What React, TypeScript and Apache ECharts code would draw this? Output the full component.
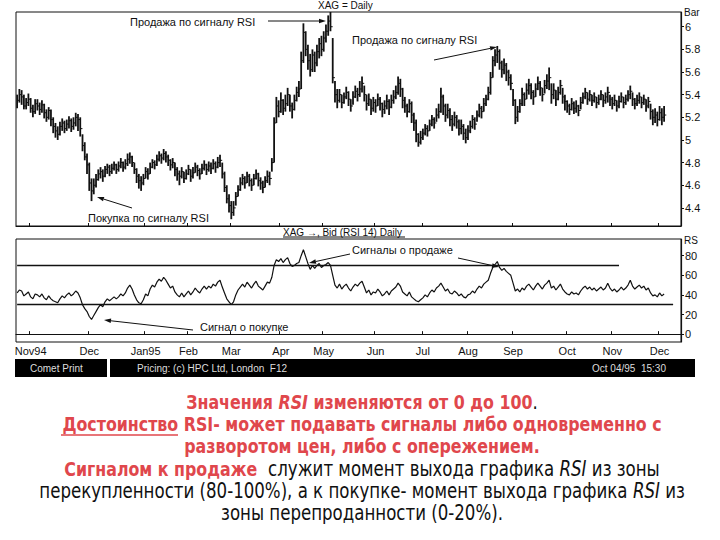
import React, { useEffect, useRef } from "react";
import * as echarts from "echarts";

// ---- Price bars (XAG daily): close, high, low ----
const closes = [
  5.35, 5.40, 5.38, 5.30, 5.33, 5.36, 5.28, 5.25, 5.32, 5.30,
  5.27, 5.31, 5.24, 5.20, 5.26, 5.18, 5.12, 5.08, 5.05, 5.12,
  5.15, 5.10, 5.14, 5.17, 5.12, 5.15, 5.20, 5.18, 5.10,
  4.95, 4.85, 4.78, 4.62, 4.55, 4.60, 4.65, 4.70, 4.72, 4.68, 4.74,
  4.76, 4.72, 4.75, 4.78, 4.74, 4.77, 4.80, 4.76, 4.79, 4.83, 4.85,
  4.80, 4.74, 4.68, 4.64, 4.62, 4.66, 4.72, 4.70, 4.76,
  4.80, 4.78, 4.83, 4.86, 4.84, 4.88, 4.85, 4.82, 4.78, 4.80, 4.74, 4.70, 4.68,
  4.72, 4.66, 4.70, 4.74, 4.68, 4.71, 4.76, 4.73, 4.70, 4.75, 4.78, 4.74, 4.77, 4.75, 4.79, 4.76, 4.80, 4.82,
  4.70, 4.58, 4.48, 4.42, 4.36, 4.40, 4.50, 4.56, 4.62,
  4.66, 4.62, 4.68, 4.64, 4.60, 4.66, 4.70, 4.64, 4.62, 4.58, 4.64, 4.68, 4.66,
  4.80, 5.15, 5.30, 5.25, 5.35, 5.28, 5.32, 5.40, 5.30, 5.27, 5.35, 5.42, 5.45,
  5.70, 5.95, 5.80, 5.70, 5.62, 5.75, 5.68, 5.78, 5.85, 5.80, 5.90, 5.96, 6.05, 6.00,
  5.55, 5.40, 5.35,
  5.40, 5.33, 5.38, 5.42, 5.36, 5.30, 5.38, 5.43, 5.40, 5.45,
  5.50,
  5.40, 5.32, 5.36, 5.28, 5.33, 5.30, 5.36, 5.32, 5.27, 5.30, 5.34, 5.29, 5.35, 5.38, 5.42,
  5.50, 5.45, 5.35,
  5.30, 5.25, 5.32, 5.22, 5.15, 5.05, 4.98, 5.02,
  5.06, 5.10, 5.08, 5.14, 5.18, 5.15, 5.22, 5.25,
  5.38,
  5.30, 5.22, 5.26, 5.18, 5.14, 5.20, 5.16, 5.10, 5.12, 5.06, 5.02, 5.08,
  5.12, 5.18, 5.14, 5.22, 5.28, 5.25, 5.32, 5.36, 5.42, 5.55,
  5.70, 5.75, 5.78, 5.68, 5.62, 5.66, 5.60, 5.55, 5.50,
  5.35, 5.20, 5.25,
  5.32, 5.40, 5.36, 5.44, 5.48, 5.42, 5.38, 5.45, 5.50, 5.46, 5.40, 5.48, 5.52,
  5.55,
  5.40, 5.44, 5.36, 5.42, 5.48, 5.38, 5.34,
  5.30, 5.27, 5.32, 5.28, 5.30, 5.26, 5.33,
  5.38, 5.42, 5.36, 5.40, 5.35, 5.38, 5.33, 5.36, 5.40, 5.35, 5.38,
  5.42,
  5.36, 5.32, 5.35, 5.30, 5.34, 5.38, 5.33, 5.36, 5.40,
  5.43,
  5.36, 5.32, 5.35, 5.38, 5.33, 5.36, 5.30, 5.34,
  5.25, 5.20, 5.22, 5.18, 5.24, 5.20, 5.22,
];

const highs = [
  5.40, 5.45, 5.44, 5.40, 5.37, 5.41, 5.37, 5.31, 5.36, 5.36,
  5.33, 5.35, 5.32, 5.27, 5.29, 5.27, 5.20, 5.15, 5.12, 5.16,
  5.19, 5.17, 5.18, 5.21, 5.19, 5.20, 5.24, 5.23, 5.20,
  5.05, 4.98, 4.88, 4.80, 4.66, 4.66, 4.70, 4.74, 4.76, 4.74, 4.77,
  4.79, 4.78, 4.79, 4.81, 4.79, 4.81, 4.84, 4.81, 4.83, 4.88, 4.89,
  4.86, 4.80, 4.75, 4.70, 4.68, 4.70, 4.76, 4.75, 4.80,
  4.83, 4.82, 4.87, 4.90, 4.88, 4.92, 4.90, 4.87, 4.83, 4.84, 4.80, 4.76, 4.73,
  4.76, 4.72, 4.74, 4.78, 4.74, 4.76, 4.80, 4.78, 4.75, 4.79, 4.82, 4.79, 4.81, 4.80, 4.83, 4.81, 4.85, 4.87,
  4.80, 4.72, 4.60, 4.52, 4.46, 4.46, 4.54, 4.60, 4.67,
  4.70, 4.68, 4.72, 4.70, 4.66, 4.70, 4.74, 4.71, 4.67, 4.64, 4.68, 4.73, 4.72,
  4.84, 5.20, 5.38, 5.35, 5.42, 5.36, 5.40, 5.46, 5.40, 5.33, 5.40, 5.47, 5.52,
  5.78, 6.03, 5.96, 5.84, 5.76, 5.80, 5.78, 5.84, 5.90, 5.92, 5.96, 6.02, 6.10, 6.13,
  5.90, 5.52, 5.45,
  5.45, 5.40, 5.42, 5.47, 5.43, 5.36, 5.43, 5.48, 5.46, 5.52,
  5.56,
  5.48, 5.40, 5.41, 5.36, 5.38, 5.36, 5.41, 5.38, 5.33, 5.35, 5.40, 5.36, 5.40, 5.44, 5.48,
  5.56, 5.54, 5.46,
  5.38, 5.32, 5.36, 5.34, 5.24, 5.18, 5.06, 5.08,
  5.10, 5.14, 5.13, 5.18, 5.22, 5.20, 5.28, 5.32,
  5.46,
  5.40, 5.32, 5.32, 5.28, 5.22, 5.25, 5.22, 5.18, 5.18, 5.14, 5.10, 5.13,
  5.17, 5.22, 5.20, 5.26, 5.32, 5.30, 5.37, 5.40, 5.47, 5.60,
  5.74, 5.80, 5.83, 5.80, 5.70, 5.72, 5.68, 5.62, 5.58,
  5.45, 5.36, 5.30,
  5.36, 5.46, 5.42, 5.50, 5.54, 5.50, 5.44, 5.50, 5.56, 5.52, 5.46, 5.53, 5.58,
  5.64,
  5.50, 5.50, 5.44, 5.47, 5.53, 5.46, 5.40,
  5.35, 5.32, 5.37, 5.34, 5.35, 5.31, 5.38,
  5.42, 5.46, 5.42, 5.44, 5.40, 5.42, 5.38, 5.40, 5.44, 5.40, 5.42,
  5.47,
  5.40, 5.38, 5.40, 5.35, 5.39, 5.42, 5.38, 5.40, 5.44,
  5.48,
  5.42, 5.37, 5.40, 5.42, 5.38, 5.40, 5.36, 5.38,
  5.32, 5.27, 5.28, 5.25, 5.30, 5.28, 5.30,
];

const lows = [
  5.28, 5.33, 5.31, 5.27, 5.27, 5.30, 5.24, 5.20, 5.23, 5.26,
  5.22, 5.24, 5.19, 5.16, 5.18, 5.12, 5.06, 5.02, 5.00, 5.04,
  5.08, 5.06, 5.08, 5.10, 5.07, 5.09, 5.12, 5.08, 5.03,
  4.90, 4.82, 4.70, 4.55, 4.46, 4.52, 4.58, 4.64, 4.66, 4.63, 4.67,
  4.70, 4.68, 4.70, 4.73, 4.70, 4.72, 4.75, 4.72, 4.74, 4.77, 4.79,
  4.76, 4.70, 4.62, 4.57, 4.55, 4.60, 4.66, 4.65, 4.70,
  4.75, 4.74, 4.77, 4.81, 4.79, 4.82, 4.80, 4.77, 4.73, 4.75, 4.68, 4.64, 4.60,
  4.66, 4.62, 4.65, 4.69, 4.63, 4.66, 4.71, 4.68, 4.65, 4.70, 4.73, 4.69, 4.72, 4.70, 4.74, 4.71, 4.75, 4.76,
  4.66, 4.54, 4.44, 4.36, 4.30, 4.33, 4.42, 4.50, 4.55,
  4.60, 4.57, 4.62, 4.59, 4.55, 4.60, 4.65, 4.59, 4.56, 4.53, 4.58, 4.62, 4.60,
  4.72, 4.80, 5.15, 5.20, 5.24, 5.22, 5.25, 5.30, 5.25, 5.19, 5.26, 5.34, 5.38,
  5.45, 5.68, 5.74, 5.62, 5.56, 5.60, 5.60, 5.65, 5.72, 5.74, 5.78, 5.86, 5.92, 5.96,
  5.50, 5.33, 5.28,
  5.33, 5.28, 5.32, 5.36, 5.30, 5.25, 5.31, 5.37, 5.34, 5.38,
  5.42,
  5.34, 5.26, 5.30, 5.22, 5.25, 5.24, 5.30, 5.26, 5.20, 5.23, 5.27, 5.22, 5.28, 5.32, 5.36,
  5.40, 5.38, 5.28,
  5.24, 5.20, 5.24, 5.15, 5.08, 4.98, 4.94, 4.96,
  5.00, 5.04, 5.03, 5.08, 5.12, 5.10, 5.16, 5.19,
  5.24,
  5.22, 5.16, 5.19, 5.12, 5.08, 5.12, 5.10, 5.04, 5.05, 5.00, 4.97, 5.00,
  5.06, 5.10, 5.09, 5.16, 5.20, 5.19, 5.25, 5.30, 5.35, 5.40,
  5.55, 5.65, 5.68, 5.62, 5.55, 5.58, 5.52, 5.48, 5.44,
  5.30, 5.14, 5.16,
  5.24, 5.30, 5.30, 5.36, 5.40, 5.36, 5.31, 5.38, 5.44, 5.39, 5.34, 5.41, 5.45,
  5.44,
  5.32, 5.36, 5.30, 5.35, 5.40, 5.32, 5.26,
  5.24, 5.22, 5.26, 5.23, 5.24, 5.21, 5.27,
  5.32, 5.36, 5.31, 5.34, 5.30, 5.33, 5.28, 5.31, 5.35, 5.29, 5.32,
  5.33,
  5.30, 5.27, 5.30, 5.25, 5.28, 5.33, 5.28, 5.31, 5.34,
  5.36,
  5.30, 5.27, 5.30, 5.32, 5.28, 5.31, 5.25, 5.28,
  5.18, 5.13, 5.15, 5.12, 5.17, 5.13, 5.16,
];

// ---- RSI (14) ----
const rsi = [
  42, 45, 44, 39, 41, 43, 38, 36, 41, 40,
  38, 41, 37, 35, 39, 36, 34, 33, 32, 36,
  39, 37, 40, 42, 39, 41, 44, 42, 37,
  30, 26, 23, 18, 15, 19, 23, 27, 30, 28, 33,
  36, 34, 36, 38, 36, 38, 41, 39, 42, 47, 50,
  46, 40, 35, 32, 31, 35, 41, 39, 46,
  50, 48, 53, 56, 54, 58, 55, 51, 47, 49, 43, 40, 38,
  42, 38, 41, 44, 40, 43, 47, 44, 42, 46, 49, 46, 49, 47, 51, 49, 53, 55,
  48, 42, 36, 33, 30, 33, 40, 45, 48,
  51, 48, 53, 50, 47, 51, 54, 49, 47, 45, 49, 53, 52,
  58, 70, 76, 74, 77, 73, 76, 78, 72, 69, 70, 72, 73,
  80, 86, 79, 72, 66, 70, 67, 70, 72, 68, 70, 71, 73, 70,
  60, 50, 47,
  51, 46, 49, 51, 47, 44, 48, 51, 49, 52,
  54,
  48, 42, 45, 40, 43, 42, 46, 43, 39, 41, 44, 40, 44, 46, 48,
  52, 49, 43,
  41, 39, 43, 38, 36, 34, 33, 35,
  37, 40, 38, 42, 45, 43, 47, 49,
  52,
  48, 44, 46, 42, 41, 44, 42, 39, 41, 38, 37, 40,
  41, 44, 42, 46, 49, 47, 51, 53, 55, 62,
  68, 71, 74, 68, 65, 67, 64, 62, 60,
  52, 44, 46,
  43, 47, 45, 49, 51, 48, 45, 49, 52, 49, 46, 50, 52,
  55,
  47, 49, 45, 48, 51, 46, 43,
  41, 40, 43, 41, 42, 40, 44,
  47, 49, 46, 48, 45, 47, 44, 46, 48, 45, 47,
  52,
  47, 44, 46, 43, 45, 48, 45, 47, 50,
  55,
  49, 46, 48, 50, 47, 49, 45, 47,
  42, 39, 40, 38, 42, 39, 41,
];

const monthStarts = [6, 32, 57, 76, 95, 117, 136, 159, 180, 200, 220, 244, 264, 285];
const monthNames = ["Nov94", "Dec", "Jan95", "Feb", "Mar", "Apr", "May", "Jun", "Jul", "Aug", "Sep", "Oct", "Nov", "Dec"];
const rsiOverbought = 70;
const rsiOversold = 30;
const overboughtEnd = 267;
const oversoldEnd = 291;
const totalDays = 295;

const RED = "#e0474c";
const ARIAL = '"Liberation Sans", Arial, sans-serif';
const NARROW = '"Liberation Sans Narrow", "Arial Narrow", "DejaVu Sans Condensed", sans-serif';

function txt(text: string, x: number, y: number, size = 11, extra: any = {}) {
  return {
    type: "text",
    x,
    y,
    silent: true,
    style: {
      text,
      fill: "#111",
      fontSize: size,
      fontFamily: ARIAL,
      align: "left",
      verticalAlign: "middle",
      textAlign: "left",
      textVerticalAlign: "middle",
      ...extra,
    },
  };
}

function arrow(x1: number, y1: number, x2: number, y2: number) {
  const ang = Math.atan2(y2 - y1, x2 - x1);
  const L = 7;
  const W = 2.2;
  const bx = x2 - L * Math.cos(ang);
  const by = y2 - L * Math.sin(ang);
  const px = -Math.sin(ang) * W;
  const py = Math.cos(ang) * W;
  return [
    { type: "line", silent: true, shape: { x1, y1, x2: bx, y2: by }, style: { stroke: "#111", lineWidth: 1 } },
    {
      type: "polygon",
      silent: true,
      shape: { points: [[x2, y2], [bx + px, by + py], [bx - px, by - py]] },
      style: { fill: "#111" },
    },
  ];
}

function richLine(text: string, y: number) {
  const bold = { fontSize: 20, fontFamily: NARROW, fontWeight: "bold" };
  const reg = { fontSize: 21, fontFamily: NARROW };
  return {
    type: "text",
    x: 362,
    y,
    scaleX: 0.88,
    silent: true,
    style: {
      text,
      align: "center",
      verticalAlign: "middle",
      textAlign: "center",
      textVerticalAlign: "middle",
      fontSize: 20,
      fontFamily: NARROW,
      rich: {
        r: { ...bold, fill: RED, color: RED },
        ri: { ...bold, fill: RED, color: RED, fontStyle: "italic" },
        k: { ...reg, fill: "#111", color: "#111" },
        ki: { ...reg, fill: "#111", color: "#111", fontStyle: "italic" },
      },
    },
  };
}

export default function App() {
  const ref = useRef<HTMLDivElement>(null);

  useEffect(() => {
    if (!ref.current) return;
    const chart = echarts.init(ref.current, null, { renderer: "svg" });
    const cats = Array.from({ length: totalDays }, (_, i) => String(i));
    const monthMap: Record<number, string> = {};
    monthStarts.forEach((m, k) => (monthMap[m] = monthNames[k]));
    const isMonth = (idx: number) => monthMap[idx] !== undefined;

    const barData = closes.map((c, i) => [i, lows[i], highs[i], c]);
    const rsiData = rsi.map((v, i) => [i, v]);

    const option: any = {
      animation: false,
      backgroundColor: "#fff",
      grid: [
        { left: 16, right: 39, top: 12, height: 214, show: true, borderColor: "#111", borderWidth: 1, backgroundColor: "transparent" },
        { left: 16, right: 39, top: 239, height: 103, show: true, borderColor: "#111", borderWidth: 1, backgroundColor: "transparent" },
      ],
      xAxis: [
        {
          type: "category",
          gridIndex: 0,
          data: cats,
          boundaryGap: true,
          axisLine: { show: true, lineStyle: { color: "#111", width: 1.2 } },
          axisTick: { show: true, inside: true, length: 3, interval: (i: number) => isMonth(i), lineStyle: { color: "#111" } },
          axisLabel: { show: false },
          splitLine: { show: false },
        },
        {
          type: "category",
          gridIndex: 1,
          data: cats,
          boundaryGap: true,
          axisLine: { show: true, lineStyle: { color: "#111", width: 1.2 } },
          axisTick: { show: true, inside: true, length: 3, interval: (i: number) => isMonth(i), lineStyle: { color: "#111" } },
          axisLabel: {
            show: true,
            interval: (i: number) => isMonth(i),
            formatter: (v: string) => monthMap[Number(v)] ?? "",
            color: "#111",
            fontSize: 11,
            fontFamily: ARIAL,
            margin: 3,
          },
          splitLine: { show: false },
        },
      ],
      yAxis: [
        {
          type: "value",
          gridIndex: 0,
          position: "right",
          min: 4.24,
          max: 6.13,
          splitNumber: 9,
          axisLine: { show: true, lineStyle: { color: "#111", width: 1.2 } },
          axisTick: { show: true, length: 3, lineStyle: { color: "#111" } },
          axisLabel: { color: "#111", fontSize: 11, fontFamily: ARIAL, margin: 4, showMinLabel: false, showMaxLabel: false },
          splitLine: { show: false },
        },
        {
          type: "value",
          gridIndex: 1,
          position: "right",
          min: -8,
          max: 97,
          splitNumber: 5,
          axisLine: { show: true, lineStyle: { color: "#111", width: 1.2 } },
          axisTick: { show: true, length: 3, lineStyle: { color: "#111" } },
          axisLabel: { color: "#111", fontSize: 11, fontFamily: ARIAL, margin: 4, showMinLabel: false, showMaxLabel: false },
          splitLine: { show: false },
        },
      ],
      series: [
        {
          type: "custom",
          xAxisIndex: 0,
          yAxisIndex: 0,
          data: barData,
          encode: { x: 0, y: [1, 2, 3] },
          renderItem: (params: any, api: any) => {
            const x = api.value(0);
            const lo = api.coord([x, api.value(1)]);
            const hi = api.coord([x, api.value(2)]);
            const cl = api.coord([x, api.value(3)]);
            return {
              type: "group",
              children: [
                { type: "line", shape: { x1: lo[0], y1: lo[1], x2: hi[0], y2: hi[1] }, style: { stroke: "#111", lineWidth: 1.8 } },
                { type: "line", shape: { x1: cl[0], y1: cl[1], x2: cl[0] + 2.2, y2: cl[1] }, style: { stroke: "#111", lineWidth: 1 } },
              ],
            };
          },
        },
        {
          type: "line",
          xAxisIndex: 1,
          yAxisIndex: 1,
          data: rsiData,
          showSymbol: false,
          symbol: "none",
          lineStyle: { color: "#111", width: 1.2 },
          markLine: {
            silent: true,
            symbol: ["none", "none"],
            label: { show: false },
            lineStyle: { color: "#111", width: 1.3, type: "solid" },
            data: [
              [{ coord: [0, rsiOverbought] }, { coord: [overboughtEnd, rsiOverbought] }],
              [{ coord: [0, rsiOversold] }, { coord: [oversoldEnd, rsiOversold] }],
            ],
          },
        },
      ],
      graphic: [
        txt("XAG = Daily", 318, 5, 10),
        txt("Bar", 684, 12, 10),
        txt("RS", 684, 240, 10),
        txt("Продажа по сигналу RSI", 130, 22, 11),
        ...arrow(268, 21, 326, 21),
        txt("Продажа по сигналу RSI", 352, 40, 11),
        ...arrow(434, 60, 497, 47),
        txt("Покупка по сигналу RSI", 88, 218, 11),
        ...arrow(132, 208, 97, 197),
        txt("XAG →, Bid (RSI 14) Daily", 283, 232, 10),
        { type: "line", silent: true, shape: { x1: 283, y1: 237, x2: 405, y2: 237 }, style: { stroke: "#111", lineWidth: 1 } },
        txt("Сигналы о продаже", 352, 250, 11),
        ...arrow(350, 254, 309, 263),
        ...arrow(458, 258, 499, 267),
        txt("Сигнал о покупке", 200, 327, 11),
        ...arrow(193, 330, 104, 320),
        { type: "rect", silent: true, shape: { x: 15, y: 359, width: 92, height: 18 }, style: { fill: "#000" } },
        { type: "rect", silent: true, shape: { x: 110, y: 359, width: 585, height: 18 }, style: { fill: "#000" } },
        txt("Comet Print", 30, 368, 10, { fill: "#ddd" }),
        txt("Pricing: (c) HPC Ltd, London  F12", 137, 368, 10, { fill: "#ddd" }),
        txt("Oct 04/95  15:30", 592, 368, 10, { fill: "#ddd" }),
        richLine("{r|Значения }{ri|RSI}{r| изменяются от 0 до 100}{k|.}", 402),
        richLine("{r|Достоинство RSI- может подавать сигналы либо одновременно с}", 424),
        { type: "line", silent: true, shape: { x1: 61, y1: 435, x2: 178, y2: 435 }, style: { stroke: RED, lineWidth: 1.5 } },
        richLine("{r|разворотом цен, либо с опережением.}", 446),
        richLine("{r|Сигналом к продаже }{k| служит момент выхода графика }{ki|RSI}{k| из зоны}", 469),
        richLine("{k|перекупленности (80-100%), а к покупке- момент выхода графика }{ki|RSI}{k| из}", 491),
        richLine("{k|зоны перепроданности (0-20%).}", 513),
      ],
    };

    chart.setOption(option);
    return () => chart.dispose();
  }, []);

  return (
    <div
      ref={ref}
      style={{ position: "fixed", left: 0, top: 0, width: 720, height: 540, background: "#fff" }}
    />
  );
}
